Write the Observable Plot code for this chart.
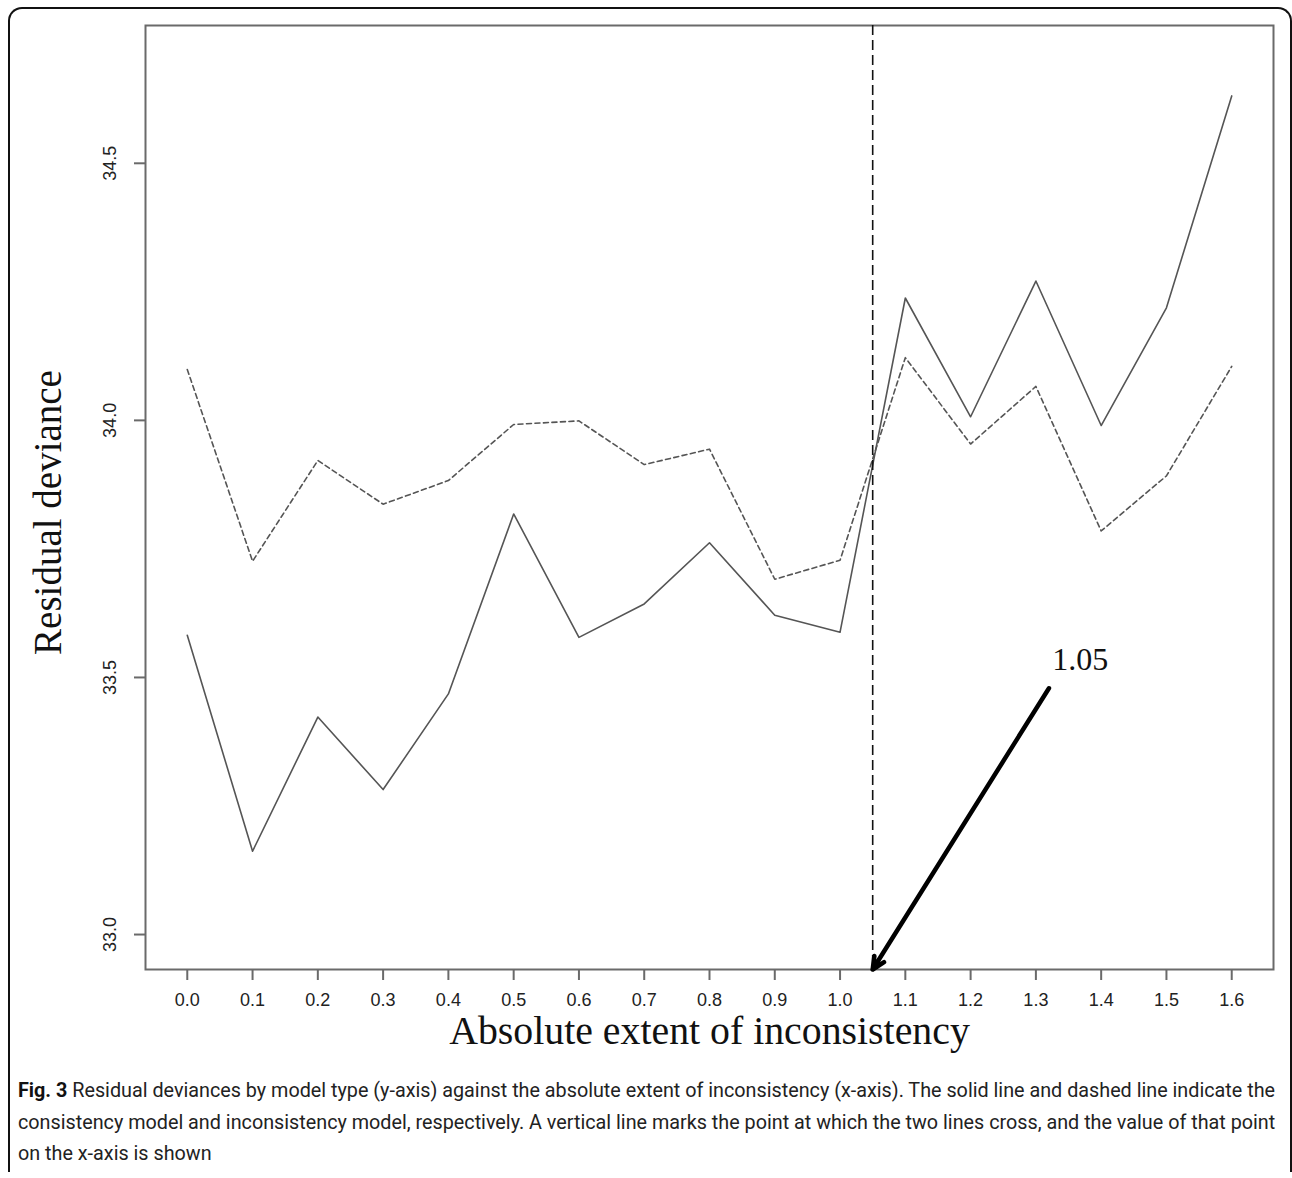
<!DOCTYPE html>
<html>
<head>
<meta charset="utf-8">
<script src="https://cdn.jsdelivr.net/npm/d3@7"></script>
<script src="https://cdn.jsdelivr.net/npm/@observablehq/plot@0.6"></script>
<style>
  html, body { margin: 0; padding: 0; background: #fff; }
  #wrap { position: relative; width: 1292px; height: 1178px; overflow: hidden; }
  #chart { position: absolute; left: 0; top: 0; }
  #border { position: absolute; left: 8px; top: 7px; width: 1280px; height: 1163px;
    border: 2px solid #111; border-bottom: none; border-radius: 14px 14px 0 0; pointer-events: none; }
  #caption { position: absolute; left: 18px; top: 1075px;
    font-family: "Roboto", "Liberation Sans", sans-serif;
    font-size: 20px; line-height: 31.5px; color: #222; white-space: nowrap; }
  #caption .ln { display: block; transform-origin: 0 50%; width: max-content; }
  #caption b { color: #111; }
</style>
</head>
<body>
<div id="wrap">
  <div id="chart"></div>
  <div id="border"></div>
  <div id="caption"><span class="ln"><b>Fig. 3</b> Residual deviances by model type (y-axis) against the absolute extent of inconsistency (x-axis). The solid line and dashed line indicate the</span><span class="ln">consistency model and inconsistency model, respectively. A vertical line marks the point at which the two lines cross, and the value of that point</span><span class="ln">on the x-axis is shown</span></div>
</div>
<script>
// Data
const extent = [0.0, 0.1, 0.2, 0.3, 0.4, 0.5, 0.6, 0.7, 0.8, 0.9, 1.0, 1.1, 1.2, 1.3, 1.4, 1.5, 1.6];
const consistencyModel = [33.582, 33.162, 33.423, 33.282, 33.468, 33.818, 33.578, 33.643, 33.762, 33.621, 33.588, 34.238, 34.007, 34.271, 33.990, 34.219, 34.631];
const inconsistencyModel = [34.099, 33.726, 33.922, 33.837, 33.883, 33.992, 33.999, 33.914, 33.944, 33.691, 33.728, 34.122, 33.954, 34.066, 33.785, 33.892, 34.105];
const xTicks = [0.0, 0.1, 0.2, 0.3, 0.4, 0.5, 0.6, 0.7, 0.8, 0.9, 1.0, 1.1, 1.2, 1.3, 1.4, 1.5, 1.6];
const yTicks = [33.0, 33.5, 34.0, 34.5];
const crossPoint = [1.05];
const crossLabel = ["1.05"];
const arrowFrom = {x: 1.32, y: 33.479};
const arrowTo = {x: 1.05, y: 32.932};
const xLabel = "Absolute extent of inconsistency";
const yLabel = "Residual deviance";

const solidData = extent.map((x, i) => ({x, y: consistencyModel[i]}));
const dashedData = extent.map((x, i) => ({x, y: inconsistencyModel[i]}));

const serif = "'Liberation Serif', 'Times New Roman', serif";
const sans = "'Liberation Sans', Arial, sans-serif";

const chart = Plot.plot({
  width: 1292,
  height: 1062,
  marginLeft: 145,
  marginRight: 19,
  marginTop: 25,
  marginBottom: 93,
  style: {background: "#fff", overflow: "visible"},
  x: {domain: [-0.064, 1.664]},
  y: {domain: [32.932, 34.768]},
  marks: [
    Plot.frame({stroke: "#6a6a6a", strokeWidth: 2}),
    Plot.axisY(yTicks, {tickSize: 11, tickFormat: () => "", stroke: "#6a6a6a", strokeWidth: 2, label: null}),
    Plot.text(yTicks, {y: d => d, text: d => d.toFixed(1), frameAnchor: "left", dx: -35, rotate: -90,
      fontSize: 18, fontFamily: sans, fill: "#222", textAnchor: "middle", lineAnchor: "middle"}),
    Plot.axisX(xTicks, {tickSize: 11, tickPadding: 13, tickFormat: d => d.toFixed(1), stroke: "#6a6a6a", strokeWidth: 2,
      fontSize: 18, fontFamily: sans, fill: "#222", label: null}),
    Plot.text([xLabel], {text: d => d, frameAnchor: "bottom", dy: 62, lineAnchor: "middle", textAnchor: "middle",
      fontSize: 39.8, fontFamily: serif, fill: "#111"}),
    Plot.text([yLabel], {text: d => d, frameAnchor: "left", dx: -97, dy: 15, rotate: -90, textAnchor: "middle", lineAnchor: "middle",
      fontSize: 39, fontFamily: serif, fill: "#111"}),
    Plot.line(dashedData, {x: "x", y: "y", stroke: "#555", strokeWidth: 1.6, strokeDasharray: "5,3.5"}),
    Plot.line(solidData, {x: "x", y: "y", stroke: "#555", strokeWidth: 1.6}),
    Plot.ruleX(crossPoint, {x: d => d, stroke: "#111", strokeWidth: 1.6, strokeDasharray: "10,5"}),
    Plot.arrow([{x1: arrowFrom.x, y1: arrowFrom.y, x2: arrowTo.x, y2: arrowTo.y}],
      {x1: "x1", y1: "y1", x2: "x2", y2: "y2", stroke: "#000", strokeWidth: 4.5, headLength: 4.5, headAngle: 50}),
    Plot.text(crossLabel, {x: 1.368, y: 33.535, text: d => d, fontSize: 32, fontFamily: serif, fill: "#111"})
  ]
});
document.getElementById("chart").appendChild(chart);

// Fit the caption lines to the reference's condensed type width
const lines = document.querySelectorAll("#caption .ln");
const natural = lines[0].getBoundingClientRect().width;
const s = 1257 / natural;
lines.forEach(l => { l.style.transform = `scaleX(${s})`; });
</script>
</body>
</html>
